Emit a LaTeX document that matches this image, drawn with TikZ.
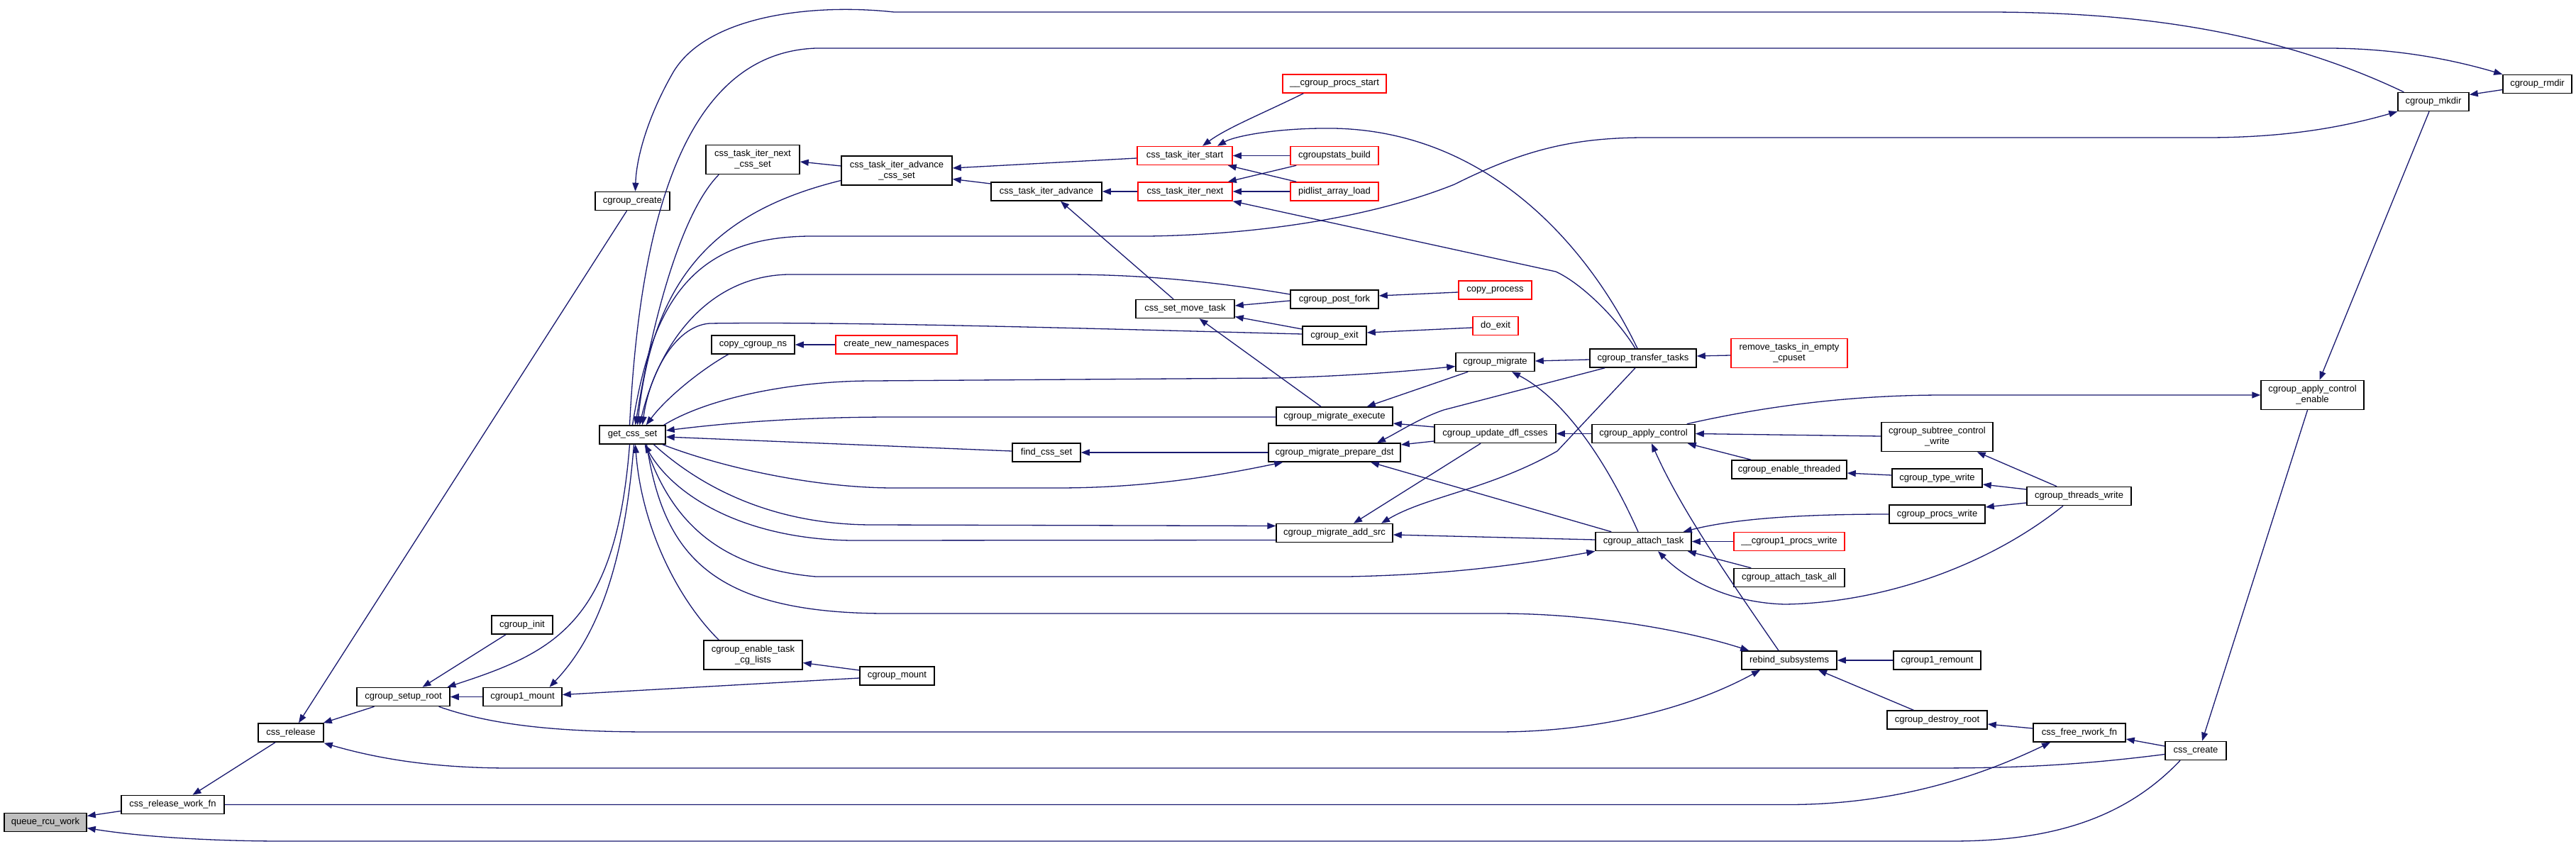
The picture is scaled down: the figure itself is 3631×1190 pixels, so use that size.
\documentclass[tikz,border=0pt]{standalone}
\usepackage{fontspec}
\setmainfont{Liberation Sans}
\usetikzlibrary{arrows.meta}
\definecolor{edgeblue}{HTML}{191970}
\definecolor{rootgray}{HTML}{BFBFBF}
\definecolor{nodered}{HTML}{FF0000}
\tikzset{
  fn/.style={draw=black, line width=1.5pt, fill=white, minimum height=26pt, inner sep=0pt, align=center, font=\fontsize{13}{15}\selectfont},
  fnred/.style={fn, draw=nodered},
  two/.style={minimum height=41pt},
  call/.style={draw=edgeblue, line width=1.3pt, -{Triangle[length=12pt,width=9pt]}},
}
\begin{document}
\begin{tikzpicture}[x=1pt,y=-1pt]
\fill[white] (0,0) rectangle (3631,1190);
\useasboundingbox (0,0) rectangle (3631,1190);
% nodes
\node[fn, fill=rootgray, minimum width=116pt] (qrw) at (64,1159.5) {queue\_rcu\_work};
\node[fn, minimum width=145pt] (crwf) at (243.5,1134.5) {css\_release\_work\_fn};
\node[fn, minimum width=92pt] (crel) at (410,1033) {css\_release};
\node[fn, minimum width=131pt] (csr) at (568.5,982.5) {cgroup\_setup\_root};
\node[fn, minimum width=86pt] (cinit) at (736,881) {cgroup\_init};
\node[fn, minimum width=111pt] (c1m) at (736.5,982.5) {cgroup1\_mount};
\node[fn, minimum width=105pt] (ccreate) at (891.5,283.5) {cgroup\_create};
\node[fn, minimum width=93pt] (gcs) at (891.5,613) {get\_css\_set};
\node[fn, two, minimum width=132pt] (tinc) at (1061,225) {css\_task\_iter\_next\\\_css\_set};
\node[fn, minimum width=117pt] (cns) at (1061.5,486) {copy\_cgroup\_ns};
\node[fn, two, minimum width=139pt] (cetcl) at (1061.5,923.5) {cgroup\_enable\_task\\\_cg\_lists};
\node[fn, two, minimum width=156pt] (tiacs) at (1264,240.5) {css\_task\_iter\_advance\\\_css\_set};
\node[fnred, minimum width=171pt] (cnn) at (1263.5,486) {create\_new\_namespaces};
\node[fn, minimum width=105pt] (cmount) at (1264.5,953) {cgroup\_mount};
\node[fn, minimum width=156pt] (tia) at (1475,270) {css\_task\_iter\_advance};
\node[fn, minimum width=96pt] (fcs) at (1475,638) {find\_css\_set};
\node[fnred, minimum width=134pt] (tis) at (1670,219.5) {css\_task\_iter\_start};
\node[fnred, minimum width=133pt] (tin) at (1670.5,270) {css\_task\_iter\_next};
\node[fn, minimum width=139pt] (csmt) at (1670.5,435.5) {css\_set\_move\_task};
\node[fnred, minimum width=146pt] (cpstart) at (1881,118) {\_\_cgroup\_procs\_start};
\node[fnred, minimum width=124pt] (csb) at (1881,219.5) {cgroupstats\_build};
\node[fnred, minimum width=124pt] (pal) at (1881,270) {pidlist\_array\_load};
\node[fn, minimum width=124pt] (cpf) at (1881,422) {cgroup\_post\_fork};
\node[fn, minimum width=90pt] (cexit) at (1881,473) {cgroup\_exit};
\node[fn, minimum width=164pt] (cme) at (1881,587) {cgroup\_migrate\_execute};
\node[fn, minimum width=186pt] (cmpd) at (1881,638) {cgroup\_migrate\_prepare\_dst};
\node[fn, minimum width=164pt] (cmas) at (1881,751.5) {cgroup\_migrate\_add\_src};
\node[fnred, minimum width=103pt] (cproc) at (2107.5,409) {copy\_process};
\node[fnred, minimum width=64pt] (dexit) at (2108,459.5) {do\_exit};
\node[fn, minimum width=111pt] (cmig) at (2107.5,510.5) {cgroup\_migrate};
\node[fn, minimum width=171pt] (cudc) at (2107.5,611.5) {cgroup\_update\_dfl\_csses};
\node[fn, minimum width=150pt] (ctt) at (2316,505) {cgroup\_transfer\_tasks};
\node[fn, minimum width=145pt] (cac) at (2316.5,611.5) {cgroup\_apply\_control};
\node[fn, minimum width=135pt] (cat) at (2316.5,763.5) {cgroup\_attach\_task};
\node[fnred, two, minimum width=164pt] (rtiec) at (2522,498) {remove\_tasks\_in\_empty\\\_cpuset};
\node[fn, minimum width=162pt] (cet) at (2522,662) {cgroup\_enable\_threaded};
\node[fnred, minimum width=156pt] (c1pw) at (2522,763.5) {\_\_cgroup1\_procs\_write};
\node[fn, minimum width=156pt] (cata) at (2522,814.5) {cgroup\_attach\_task\_all};
\node[fn, minimum width=134pt] (rbs) at (2522,931) {rebind\_subsystems};
\node[fn, two, minimum width=157pt] (cscw) at (2730.5,616) {cgroup\_subtree\_control\\\_write};
\node[fn, minimum width=127pt] (ctw) at (2730.5,674) {cgroup\_type\_write};
\node[fn, minimum width=135pt] (cpw) at (2730.5,725) {cgroup\_procs\_write};
\node[fn, minimum width=123pt] (c1r) at (2730.5,931) {cgroup1\_remount};
\node[fn, minimum width=141pt] (cdr) at (2730.5,1015) {cgroup\_destroy\_root};
\node[fn, minimum width=147pt] (ctw2) at (2930.5,699.5) {cgroup\_threads\_write};
\node[fn, minimum width=130pt] (cfrf) at (2931,1033) {css\_free\_rwork\_fn};
\node[fn, minimum width=86pt] (ccss) at (3095,1058.5) {css\_create};
\node[fn, two, minimum width=145pt] (cace) at (3259.5,557) {cgroup\_apply\_control\\\_enable};
\node[fn, minimum width=100pt] (cmk) at (3430,143.5) {cgroup\_mkdir};
\node[fn, minimum width=97pt] (crm) at (3576.5,118.5) {cgroup\_rmdir};
% edges
\draw[call] ([shift={(0,9)}]crwf.west) -- ([shift={(0,-9)}]qrw.east);
\draw[call] ([shift={(-22,0)}]ccss.south) .. controls (2990,1160) and (2880,1186) .. (2750,1186) -- (400,1186) .. controls (300,1186) and (200,1180) .. ([shift={(0,8)}]qrw.east);
\draw[call] ([shift={(-22,0)}]crel.south) -- ([shift={(28,0)}]crwf.north);
\draw[call] (crwf.east) -- (2520,1134.5) .. controls (2680,1134.5) and (2800,1090) .. ([shift={(-41,0)}]cfrf.south);
\draw[call] ([shift={(-8,0)}]ccreate.south) -- ([shift={(11,0)}]crel.north);
\draw[call] ([shift={(-41,0)}]csr.south) -- ([shift={(-1,0)}]crel.north east);
\draw[call] ([shift={(0,5)}]ccss.west) .. controls (2900,1083) and (2800,1083) .. (2700,1083) -- (720,1083) .. controls (620,1083) and (540,1072) .. ([shift={(0,1)}]crel.south east);
\draw[call] ([shift={(-23,0)}]cinit.south) -- ([shift={(27,0)}]csr.north);
\draw[call] ([shift={(-4,0)}]gcs.south) .. controls (868,880) and (780,920) .. ([shift={(62,0)}]csr.north);
\draw[call] ([shift={(2,0)}]gcs.south) .. controls (880,800) and (840,900) .. ([shift={(38,0)}]c1m.north);
\draw[call] (c1m.west) -- (csr.east);
\draw[call] ([shift={(0,3)}]cmount.west) -- ([shift={(0,-3)}]c1m.east);
\draw[call] ([shift={(0,-8)}]cmount.west) -- ([shift={(0,11)}]cetcl.east);
\draw[call] ([shift={(50,0)}]csr.south) .. controls (700,1025) and (800,1032) .. (920,1032) -- (2110,1032) .. controls (2250,1032) and (2380,1000) .. ([shift={(-41,0)}]rbs.south);
\draw[call] ([shift={(20,0)}]gcs.south) .. controls (935,780) and (1000,865) .. (1250,865) -- (2110,865) .. controls (2250,865) and (2380,890) .. ([shift={(11,0)}]rbs.north west);
\draw[call] ([shift={(22,0)}]cetcl.north west) .. controls (960,850) and (905,750) .. ([shift={(4,0)}]gcs.south);
\draw[call] ([shift={(18,0)}]gcs.south) .. controls (940,720) and (1000,800) .. (1150,813) -- (1900,813) .. controls (2050,810) and (2150,795) .. (cat.south west);
\draw[call] ([shift={(0,10)}]cmas.west) -- (1200,762) .. controls (1050,760) and (950,700) .. ([shift={(-30,0)}]gcs.south east);
\draw[call] ([shift={(30,0)}]gcs.south) .. controls (980,680) and (1080,740) .. (1230,740) -- ([shift={(0,-10)}]cmas.west);
\draw[call] ([shift={(-5,0)}]gcs.south east) .. controls (1020,660) and (1150,688) .. (1260,688) -- (1490,688) .. controls (1620,688) and (1720,670) .. ([shift={(21,0)}]cmpd.south west);
\draw[call] ([shift={(0,-2)}]fcs.west) -- ([shift={(0,3)}]gcs.east);
\draw[call] (cmpd.west) -- (fcs.east);
\draw[call] ([shift={(0,1)}]cme.west) -- (1260,588) .. controls (1120,588) and (1020,597) .. ([shift={(0,-6)}]gcs.east);
\draw[call] ([shift={(-3,0)}]gcs.north east) .. controls (1000,560) and (1120,537) .. (1230,537) -- (1800,533) .. controls (1900,530) and (1980,524) .. ([shift={(0,6)}]cmig.west);
\draw[call] ([shift={(-35,0)}]cns.south) .. controls (990,520) and (940,560) .. ([shift={(-28,0)}]gcs.north east);
\draw[call] (cnn.west) -- (cns.east);
\draw[call] ([shift={(0,-2)}]cexit.west) .. controls (1600,465) and (1200,453) .. (1000,456) .. controls (950,460) and (915,530) .. ([shift={(14,0)}]gcs.north);
\draw[call] ([shift={(0,-7)}]cpf.west) .. controls (1700,395) and (1600,387) .. (1500,387) -- (1110,387) .. controls (1000,390) and (930,480) .. ([shift={(10,0)}]gcs.north);
\draw[call] ([shift={(19,0)}]tinc.south west) .. controls (960,300) and (920,450) .. ([shift={(4,0)}]gcs.north);
\draw[call] ([shift={(0,14)}]tiacs.west) .. controls (1000,300) and (920,400) .. ([shift={(7,0)}]gcs.north);
\draw[call] ([shift={(-4,0)}]gcs.north) .. controls (900,350) and (950,75) .. (1150,68) -- (3280,68) .. controls (3380,68) and (3460,85) .. (crm.north west);
\draw[call] ([shift={(9,0)}]cmk.north west) .. controls (3200,40) and (3000,17) .. (2800,17) -- (1260,17) .. controls (1150,5) and (1000,20) .. (950,100) .. controls (915,160) and (897,220) .. ([shift={(4,0)}]ccreate.north);
\draw[call] (gcs.north) .. controls (920,420) and (980,335) .. (1140,333) -- (1620,333) .. controls (1800,330) and (1950,300) .. (2050,260) .. controls (2150,210) and (2220,194) .. (2320,194) -- (3110,194) .. controls (3220,194) and (3300,180) .. (cmk.south west);
\draw[call] ([shift={(0,8)}]crm.west) -- ([shift={(0,-10)}]cmk.east);
\draw[call] ([shift={(-6,0)}]cmk.south) -- ([shift={(10,0)}]cace.north);
\draw[call] ([shift={(-7,0)}]cace.south) -- ([shift={(9,0)}]ccss.north);
\draw[call] ([shift={(-12,0)}]cac.north east) .. controls (2500,570) and (2620,557) .. (2740,557) -- (cace.west);
\draw[call] ([shift={(-8,0)}]ctt.north) .. controls (2240,350) and (2100,185) .. (1880,181) .. controls (1800,180) and (1740,192) .. ([shift={(46,0)}]tis.north);
\draw[call] ([shift={(-11,0)}]ctt.north) .. controls (2280,450) and (2230,400) .. (2193,383) -- (tin.south east);
\draw[call] ([shift={(30,0)}]cpstart.south west) .. controls (1780,160) and (1730,180) .. ([shift={(25,0)}]tis.north);
\draw[call] (csb.west) -- (tis.east);
\draw[call] ([shift={(9,0)}]pal.north west) -- ([shift={(-7,0)}]tis.south east);
\draw[call] ([shift={(9,0)}]csb.south west) -- ([shift={(-7,0)}]tin.north east);
\draw[call] (pal.west) -- (tin.east);
\draw[call] ([shift={(0,3.5)}]tis.west) -- ([shift={(0,-3.5)}]tiacs.east);
\draw[call] ([shift={(0,-11)}]tia.west) -- ([shift={(0,12)}]tiacs.east);
\draw[call] ([shift={(0,-6.5)}]tiacs.west) -- ([shift={(0,3)}]tinc.east);
\draw[call] (tin.west) -- (tia.east);
\draw[call] ([shift={(-16.5,0)}]csmt.north) -- ([shift={(20,0)}]tia.south);
\draw[call] ([shift={(0,2)}]cpf.west) -- ([shift={(0,-4.5)}]csmt.east);
\draw[call] ([shift={(0,-9)}]cexit.west) -- ([shift={(0,11)}]csmt.east);
\draw[call] ([shift={(-19,0)}]cme.north) -- ([shift={(20,0)}]csmt.south);
\draw[call] ([shift={(0,3)}]cproc.west) -- ([shift={(0,-5)}]cpf.east);
\draw[call] ([shift={(0,2.5)}]dexit.west) -- ([shift={(0,-4)}]cexit.east);
\draw[call] ([shift={(18,0)}]cmig.south west) -- ([shift={(-37,0)}]cme.north east);
\draw[call] ([shift={(0,2)}]ctt.west) -- ([shift={(0,-1.5)}]cmig.east);
\draw[call] ([shift={(0,3)}]rtiec.west) -- ([shift={(0,-3)}]ctt.east);
\draw[call] ([shift={(-7.5,0)}]cat.north) .. controls (2260,640) and (2200,560) .. ([shift={(23.5,0)}]cmig.south);
\draw[call] ([shift={(0,-9.5)}]cudc.west) -- ([shift={(0,10)}]cme.east);
\draw[call] ([shift={(0,10.5)}]cudc.west) -- ([shift={(0,-11)}]cmpd.east);
\draw[call] ([shift={(22,0)}]ctt.south west) -- (2035,578) .. controls (2000,590) and (1970,610) .. ([shift={(60,0)}]cmpd.north);
\draw[call] ([shift={(-20.5,0)}]cudc.south) -- ([shift={(27,0)}]cmas.north);
\draw[call] ([shift={(-11,0)}]ctt.south) -- (2195,636) .. controls (2100,690) and (2010,700) .. ([shift={(66,0)}]cmas.north);
\draw[call] ([shift={(0,-2.5)}]cat.west) -- ([shift={(0,2.5)}]cmas.east);
\draw[call] ([shift={(23,0)}]cat.north west) -- ([shift={(51,0)}]cmpd.south);
\draw[call] (cac.west) -- (cudc.east);
\draw[call] ([shift={(0,-1)}]cscw.west) -- (cac.east);
\draw[call] ([shift={(28,0)}]cet.north west) -- ([shift={(-11,0)}]cac.south east);
\draw[call] ([shift={(-15,0)}]rbs.north) .. controls (2440,820) and (2370,720) .. ([shift={(11.5,0)}]cac.south);
\draw[call] ([shift={(0,-4)}]ctw.west) -- ([shift={(0,5)}]cet.east);
\draw[call] (cpw.west) .. controls (2550,725) and (2450,730) .. ([shift={(-12,0)}]cat.north east);
\draw[call] (c1pw.west) -- (cat.east);
\draw[call] ([shift={(25,0)}]cata.north west) -- ([shift={(-6,0)}]cat.south east);
\draw[call] ([shift={(-22.5,0)}]ctw2.south) .. controls (2800,800) and (2650,850) .. (2516,852) .. controls (2440,850) and (2380,820) .. ([shift={(20.5,0)}]cat.south);
\draw[call] ([shift={(-31.5,0)}]ctw2.north) -- ([shift={(-23,0)}]cscw.south east);
\draw[call] ([shift={(0,-9.5)}]ctw2.west) -- ([shift={(0,9)}]ctw.east);
\draw[call] ([shift={(0,9.5)}]ctw2.west) -- ([shift={(0,-10)}]cpw.east);
\draw[call] (c1r.west) -- (rbs.east);
\draw[call] ([shift={(38,0)}]cdr.north west) -- ([shift={(41,0)}]rbs.south);
\draw[call] ([shift={(0,-6)}]cfrf.west) -- ([shift={(0,6)}]cdr.east);
\draw[call] ([shift={(0,-6.5)}]ccss.west) -- ([shift={(0,9)}]cfrf.east);
\end{tikzpicture}
\end{document}
